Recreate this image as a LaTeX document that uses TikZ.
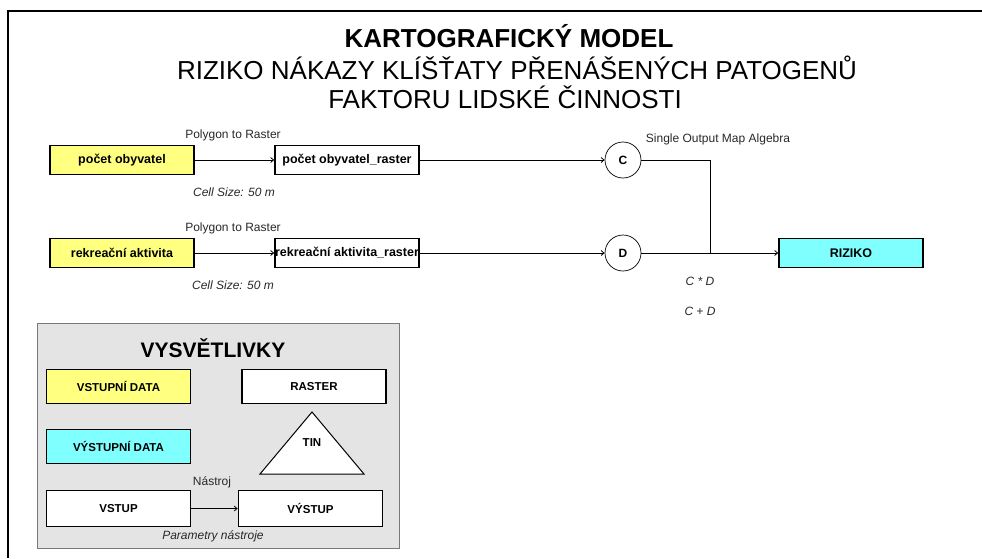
\documentclass[tikz,border=0pt]{standalone}
\usepackage{fontspec}
\setmainfont{Liberation Sans}
\usetikzlibrary{arrows.meta}

\definecolor{indata}{RGB}{255,255,128}
\definecolor{outdata}{RGB}{128,255,255}
\definecolor{legendbg}{RGB}{228,228,228}
\definecolor{legendframe}{RGB}{120,120,120}
\definecolor{labeltext}{RGB}{40,40,40}

\tikzset{
  databox/.style={draw, line width=1.6pt, minimum width=144, minimum height=29,
    inner sep=0, font=\bfseries\fontsize{12.5}{14}\selectfont},
  inbox/.style={databox, fill=indata},
  outbox/.style={databox, fill=outdata},
  rasterbox/.style={databox, fill=white},
  legbox/.style={databox, minimum height=34, font=\bfseries\fontsize{11.5}{14}\selectfont},
  opcircle/.style={draw, circle, line width=0.7pt, minimum size=36, inner sep=0,
    fill=white, font=\bfseries\fontsize{12}{14}\selectfont},
  toollabel/.style={text=labeltext, inner sep=0, font=\fontsize{12}{14}\selectfont},
  paramlabel/.style={text=labeltext, inner sep=0, font=\itshape\fontsize{12}{14}\selectfont},
  conn/.style={line width=0.8pt, -{Straight Barb[length=3pt,width=5pt]}},
  titlebold/.style={inner sep=0, font=\bfseries\fontsize{26}{30}\selectfont},
  titleplain/.style={inner sep=0, font=\fontsize{26}{30}\selectfont},
}

\begin{document}
\begin{tikzpicture}[x=1pt, y=-1pt]
  \useasboundingbox (0,0) rectangle (982,558);

  % page frame (top and left edges)
  \draw[line width=2pt] (8,558) -- (8,11) -- (982,11);

  % title block
  \node[titlebold]  (t1) at (509,36.5) {KARTOGRAFICKÝ MODEL};
  \node[titleplain] (t2) at (517,67.5) {RIZIKO NÁKAZY KLÍŠŤATY PŘENÁŠENÝCH PATOGENŮ};
  \node[titleplain] (t3) at (505,97.5) {FAKTORU LIDSKÉ ČINNOSTI};

  % first branch
  \node[inbox]     (pop)  at (122,160) {počet obyvatel};
  \node[rasterbox] (popr) at (347,160) {počet obyvatel\_raster};
  \node[opcircle]  (c)    at (623,160) {C};
  \node[toollabel]  (tool1) at (233,135) {Polygon to Raster};
  \node[paramlabel] (par1)  at (234,192) {Cell Size: 50 m};

  % second branch
  \node[inbox]     (rek)  at (122,253) {rekreační aktivita};
  \node[rasterbox] (rekr) at (347,253) {rekreační aktivita\_raster};
  \node[opcircle]  (d)    at (623,253) {D};
  \node[toollabel]  (tool2) at (233,228) {Polygon to Raster};
  \node[paramlabel] (par2)  at (233,285) {Cell Size: 50 m};

  % map algebra result
  \node[outbox] (riz) at (851,253) {RIZIKO};
  \node[toollabel]  (tool3) at (718,139) {Single Output Map Algebra};
  \node[paramlabel] (par3)  at (700,281) {C * D};
  \node[paramlabel] (par4)  at (700,311) {C + D};
  \coordinate (join) at (710,253);

  \draw[conn] (pop) -- (popr);
  \draw[conn] (popr) -- (c);
  \draw[conn] (rek) -- (rekr);
  \draw[conn] (rekr) -- (d);
  \draw[line width=0.8pt] (c) -| (join);
  \draw[conn] (d) -- (riz);

  % legend
  \node[draw=legendframe, line width=0.8pt, fill=legendbg, minimum width=362,
        minimum height=225, inner sep=0] (leg) at (218,435.5) {};
  \node[inner sep=0, font=\bfseries\fontsize{21}{24}\selectfont] (legt) at (213,348) {VYSVĚTLIVKY};
  \node[legbox, fill=indata]  (lin)  at (118.5,386.5) {VSTUPNÍ DATA};
  \node[legbox, fill=outdata] (lout) at (118.5,446.5) {VÝSTUPNÍ DATA};
  \node[legbox, fill=white]   (lras) at (314,386.5) {RASTER};
  \draw[line width=1pt, fill=white] (312,412) -- (364,474) -- (260,474) -- cycle;
  \node[inner sep=0, font=\bfseries\fontsize{11.5}{14}\selectfont] (ltin) at (312,443) {TIN};
  \node[legbox, fill=white, minimum height=36] (lvst) at (118.5,508.5) {VSTUP};
  \node[legbox, fill=white, minimum height=36] (lvys) at (310.5,508.5) {VÝSTUP};
  \node[toollabel]  (ltool) at (212,482) {Nástroj};
  \node[paramlabel] (lpar)  at (213,536) {Parametry nástroje};
  \draw[conn] (lvst) -- (lvys);
\end{tikzpicture}
\end{document}
